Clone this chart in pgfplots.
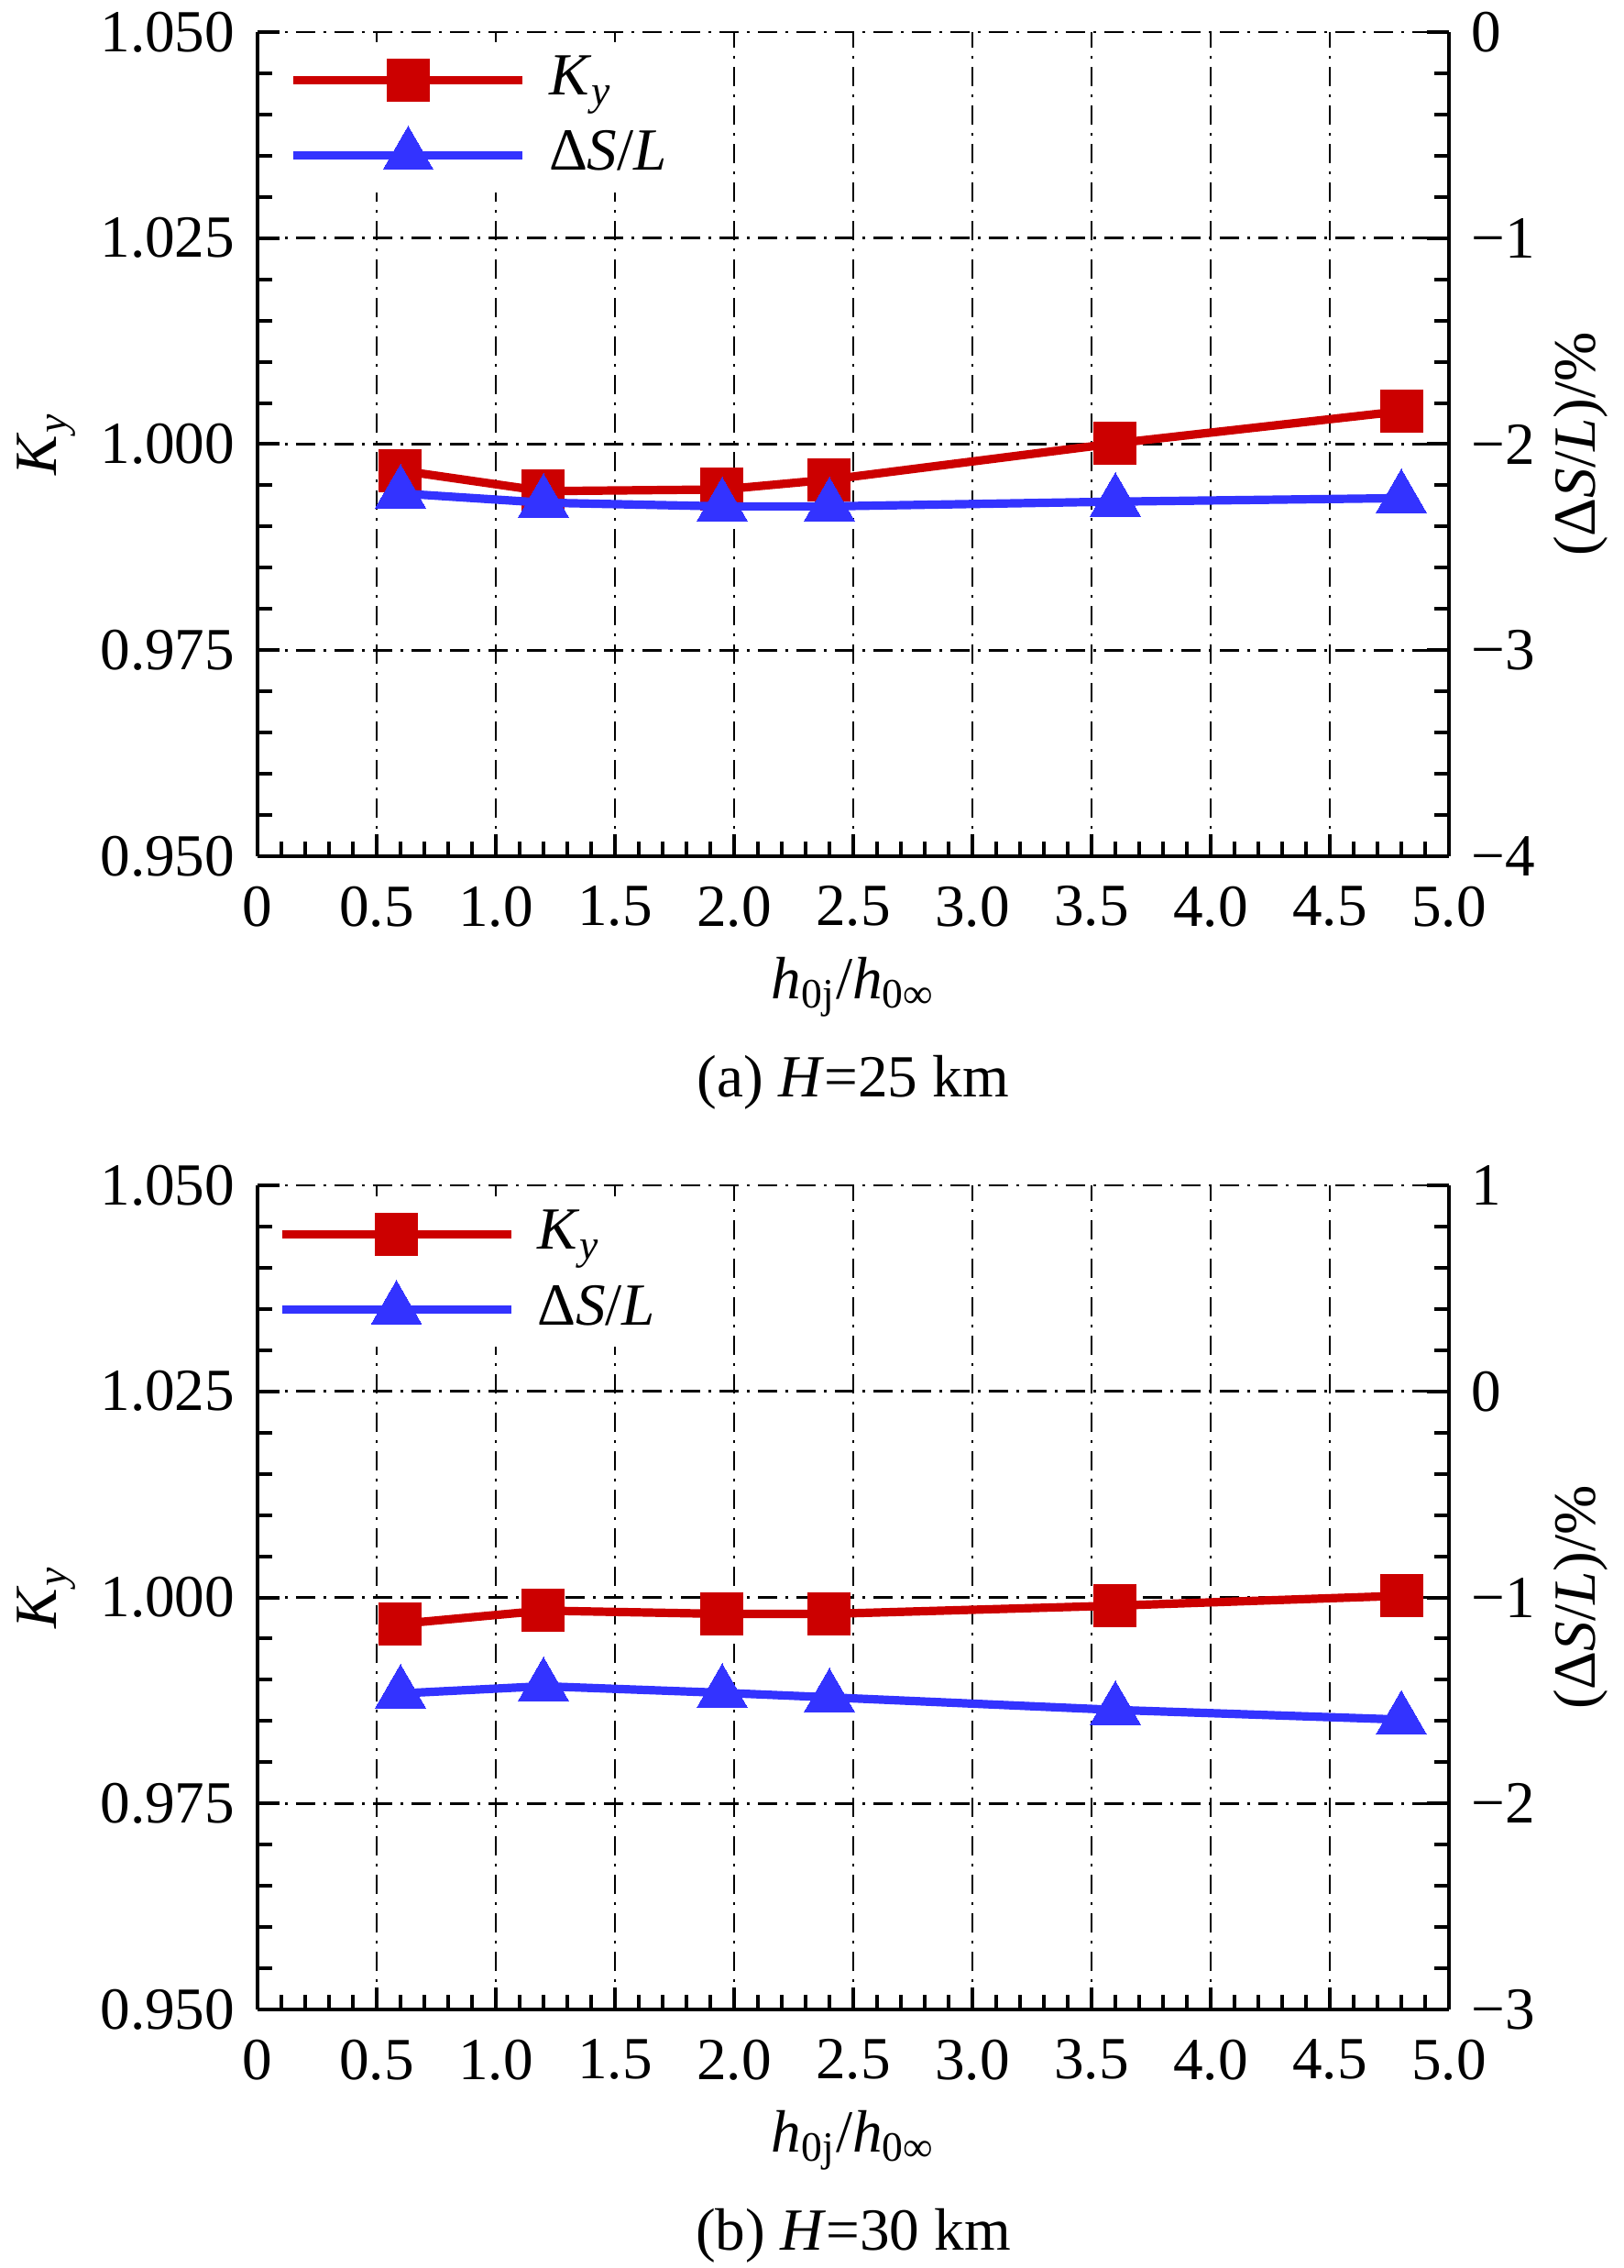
\documentclass[border=0pt]{standalone}
\usepackage{fontspec}
\setmainfont{Liberation Serif}
\usepackage{pgfplots}
\pgfplotsset{compat=1.18}
\definecolor{kred}{RGB}{204,0,0}
\definecolor{sblue}{RGB}{51,51,255}
\pgfplotsset{
  common/.style={
    scale only axis, width=325pt, height=224.75pt,
    xmin=0, xmax=5,
    tick align=inside,
    major tick length=6pt, minor tick length=4pt,
    every tick/.append style={black, line width=1pt},
    axis line style={line width=1.2pt, -},
    /pgf/number format/assume math mode=true,
  },
  mainax/.style={common,
    axis x line*=bottom, axis y line*=left,
    ymin=0.95, ymax=1.05,
    xtick={0,0.5,1,1.5,2,2.5,3,3.5,4,4.5,5},
    xticklabels={0,0.5,1.0,1.5,2.0,2.5,3.0,3.5,4.0,4.5,5.0},
    ytick={0.95,0.975,1,1.025,1.05},
    yticklabels={0.950,0.975,1.000,1.025,1.050},
    minor x tick num=4, minor y tick num=4,
    grid=major,
    major grid style={black, line width=0.65pt, dash pattern=on 5.25pt off 2.25pt on 0.75pt off 2.25pt},
    xticklabel style={inner sep=0pt, yshift=-8pt},
    yticklabel style={inner sep=0pt, xshift=-6pt},
    legend cell align=left,
    legend image code/.code={\draw[mark repeat=2,mark phase=2,##1] plot coordinates {(0pt,0pt) (31.25pt,0pt) (62.5pt,0pt)};},
  },
  twinax/.style={common,
    axis x line=none, axis y line*=right,
    minor y tick num=4,
    yticklabel style={inner sep=0pt, xshift=6pt},
  },
  kstyle/.style={color=kred, line width=2.3pt, mark=square*, mark size=5.75pt, mark options={solid, line width=0pt}},
  sstyle/.style={color=sblue, line width=2.3pt, mark=triangle*, mark size=7.9pt, mark options={solid, line width=0pt}},
}
\begin{document}
\fontsize{16.3pt}{19.5pt}\selectfont
\begin{tikzpicture}
\path[use as bounding box] (-70.25pt,-385pt) rectangle (372.75pt,233.5pt);
% ---------- (a) ----------
\begin{axis}[mainax, name=top, at={(0pt,0pt)}, anchor=south west,
  legend style={at={(axis description cs:0,1)}, anchor=north west, xshift=8.5pt, yshift=-2.6pt,
    draw=none, fill=white, inner sep=0pt, column sep=6pt, row sep=0pt,
    nodes={inner sep=0pt, minimum height=20.5pt}}]
\addplot[kstyle] coordinates {(0.6,0.9968) (1.2,0.9943) (1.95,0.9945) (2.4,0.9957) (3.6,1.0001) (4.8,1.0040)};
\addlegendentry{\textit{K}\textsubscript{\textit{y}}}
\addlegendimage{sstyle}
\addlegendentry{Δ\textit{S}/\textit{L}}
\end{axis}
\begin{axis}[twinax, at={(0pt,0pt)}, anchor=south west,
  ymin=-4, ymax=0, ytick={-4,-3,-2,-1,0}, yticklabels={−4,−3,−2,−1,0}]
\addplot[sstyle] coordinates {(0.6,-2.239) (1.2,-2.284) (1.95,-2.302) (2.4,-2.302) (3.6,-2.279) (4.8,-2.262)};
\end{axis}
\node[rotate=90, anchor=base] at ([xshift=-54.75pt]top.west) {\textit{K}\textsubscript{\textit{y}}};
\node[rotate=90, anchor=base] at ([xshift=39.75pt]top.east) {(Δ\textit{S}/\textit{L})/\%};
\node[anchor=base] at ([yshift=-38.75pt]top.south) {\textit{h}\textsubscript{0j}/\textit{h}\textsubscript{0∞}};
\node[anchor=base] at ([yshift=-65.5pt]top.south) {(a) \textit{H}=25 km};
% ---------- (b) ----------
\begin{axis}[mainax, name=bot, at={(0pt,-314.5pt)}, anchor=south west,
  legend style={at={(axis description cs:0,1)}, anchor=north west, xshift=5.3pt, yshift=-2.9pt,
    draw=none, fill=white, inner sep=0pt, column sep=6pt, row sep=0pt,
    nodes={inner sep=0pt, minimum height=20.5pt}}]
\addplot[kstyle] coordinates {(0.6,0.9968) (1.2,0.9984) (1.95,0.9980) (2.4,0.9980) (3.6,0.9990) (4.8,1.0002)};
\addlegendentry{\textit{K}\textsubscript{\textit{y}}}
\addlegendimage{sstyle}
\addlegendentry{Δ\textit{S}/\textit{L}}
\end{axis}
\begin{axis}[twinax, at={(0pt,-314.5pt)}, anchor=south west,
  ymin=-3, ymax=1, ytick={-3,-2,-1,0,1}, yticklabels={−3,−2,−1,0,1}]
\addplot[sstyle] coordinates {(0.6,-1.466) (1.2,-1.431) (1.95,-1.463) (2.4,-1.485) (3.6,-1.546) (4.8,-1.593)};
\end{axis}
\node[rotate=90, anchor=base] at ([xshift=-54.75pt]bot.west) {\textit{K}\textsubscript{\textit{y}}};
\node[rotate=90, anchor=base] at ([xshift=39.75pt]bot.east) {(Δ\textit{S}/\textit{L})/\%};
\node[anchor=base] at ([yshift=-38.75pt]bot.south) {\textit{h}\textsubscript{0j}/\textit{h}\textsubscript{0∞}};
\node[anchor=base] at ([yshift=-65.5pt]bot.south) {(b) \textit{H}=30 km};
\end{tikzpicture}
\end{document}
